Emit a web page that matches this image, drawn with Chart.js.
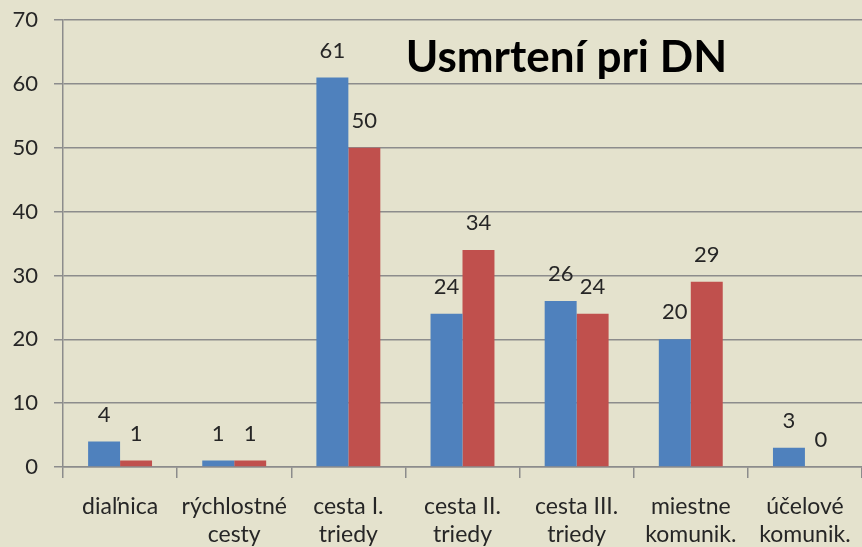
<!DOCTYPE html>
<html>
<head>
<meta charset="utf-8">
<script src="https://cdn.jsdelivr.net/npm/chart.js@4"></script>
<style>
  html, body { margin: 0; padding: 0; background: #e4e2cd; }
  #wrap { width: 862px; height: 547px; position: relative; }
</style>
</head>
<body>
<div id="wrap"><canvas id="myChart" width="862" height="547"></canvas></div>
<script>
// Data
const categories = [
  ['diaľnica'],
  ['rýchlostné', 'cesty'],
  ['cesta I.', 'triedy'],
  ['cesta II.', 'triedy'],
  ['cesta III.', 'triedy'],
  ['miestne', 'komunik.'],
  ['účelové', 'komunik.']
];
const seriesA = [4, 1, 61, 24, 26, 20, 3];
const seriesB = [1, 1, 50, 34, 24, 29, 0];
const chartTitle = 'Usmrtení pri DN';

const fontFamily = 'Lato, "Open Sans", sans-serif';
const textColor = '#262626';
const gridColor = '#8c8c8c';

// value labels above each bar
const valueLabels = {
  id: 'valueLabels',
  afterDatasetsDraw(chart) {
    const ctx = chart.ctx;
    ctx.save();
    ctx.font = '22px ' + fontFamily;
    ctx.fillStyle = textColor;
    ctx.textAlign = 'center';
    ctx.textBaseline = 'bottom';
    chart.data.datasets.forEach((ds, i) => {
      chart.getDatasetMeta(i).data.forEach((bar, j) => {
        ctx.fillText(String(ds.data[j]), bar.x, bar.y - 16);
      });
    });
    ctx.restore();
  }
};

// big title inside the plot area
const innerTitle = {
  id: 'innerTitle',
  afterDraw(chart) {
    const a = chart.chartArea;
    const ctx = chart.ctx;
    ctx.save();
    ctx.font = 'bold 44px ' + fontFamily;
    ctx.fillStyle = '#000000';
    ctx.textAlign = 'center';
    ctx.textBaseline = 'alphabetic';
    ctx.fillText(chartTitle, a.left + (a.right - a.left) * 0.63, a.top + 52);
    ctx.restore();
  }
};

new Chart(document.getElementById('myChart'), {
  type: 'bar',
  data: {
    labels: categories,
    datasets: [
      { data: seriesA, backgroundColor: '#4f81bd', borderWidth: 0 },
      { data: seriesB, backgroundColor: '#c0504d', borderWidth: 0 }
    ]
  },
  options: {
    responsive: false,
    animation: false,
    layout: { padding: { top: 20, right: -4, left: 0, bottom: 0 } },
    datasets: { bar: { barPercentage: 1, categoryPercentage: 0.56 } },
    plugins: { legend: { display: false }, tooltip: { enabled: false } },
    scales: {
      x: {
        offset: true,
        grid: { offset: true, drawOnChartArea: false, drawTicks: true, tickLength: 11, color: gridColor, lineWidth: 1.5 },
        border: { display: true, color: gridColor, width: 1.5 },
        ticks: { color: textColor, font: { family: fontFamily, size: 23, lineHeight: 1.2 }, padding: 15, maxRotation: 0, autoSkip: false },
        afterFit(s) { s.height = 80; s.paddingLeft = 0; s.paddingRight = 0; }
      },
      y: {
        min: 0,
        max: 70,
        ticks: { stepSize: 10, color: textColor, font: { family: fontFamily, size: 22 }, padding: 16 },
        grid: { color: gridColor, lineWidth: 1.5, tickLength: 9 },
        border: { display: true, color: gridColor, width: 1.5 },
        afterFit(s) { s.width = 63; s.paddingTop = 0; s.paddingBottom = 0; }
      }
    }
  },
  plugins: [valueLabels, innerTitle]
});
</script>
</body>
</html>
